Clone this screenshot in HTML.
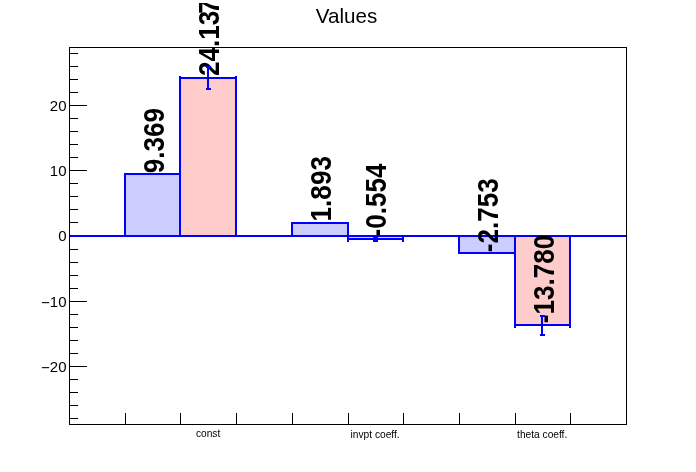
<!DOCTYPE html>
<html lang="en"><head><meta charset="utf-8"><title>Values</title>
<style>html,body{margin:0;padding:0;background:#fff;}body{width:696px;height:472px;overflow:hidden;}svg{display:block;}text{font-family:"Liberation Sans",Arial,Helvetica,sans-serif;fill:#000;}.bl{font-weight:bold;font-size:29.2px;}.yl{font-size:15.5px;text-anchor:end;}.xl{font-size:10.2px;text-anchor:middle;}.k{fill:#000;}.b{fill:#0000ff;}</style></head><body>
<svg width="696" height="472" viewBox="0 0 696 472" shape-rendering="crispEdges">
<rect x="0" y="0" width="696" height="472" fill="#ffffff"/>
<g id="frame">
<rect x="69" y="47" width="558" height="1" class="k"/>
<rect x="69" y="424" width="558" height="1" class="k"/>
<rect x="69" y="47" width="1" height="378" class="k"/>
<rect x="626" y="47" width="1" height="378" class="k"/>
</g>
<text x="346.5" y="23" style="font-size:20.6px;text-anchor:middle">Values</text>
<g id="yaxis">
<rect x="70" y="53" width="8" height="1" class="k"/>
<rect x="70" y="66" width="8" height="1" class="k"/>
<rect x="70" y="79" width="8" height="1" class="k"/>
<rect x="70" y="92" width="8" height="1" class="k"/>
<rect x="70" y="105" width="17" height="1" class="k"/>
<rect x="70" y="118" width="8" height="1" class="k"/>
<rect x="70" y="131" width="8" height="1" class="k"/>
<rect x="70" y="144" width="8" height="1" class="k"/>
<rect x="70" y="157" width="8" height="1" class="k"/>
<rect x="70" y="170" width="17" height="1" class="k"/>
<rect x="70" y="183" width="8" height="1" class="k"/>
<rect x="70" y="196" width="8" height="1" class="k"/>
<rect x="70" y="209" width="8" height="1" class="k"/>
<rect x="70" y="222" width="8" height="1" class="k"/>
<rect x="70" y="236" width="17" height="1" class="k"/>
<rect x="70" y="249" width="8" height="1" class="k"/>
<rect x="70" y="262" width="8" height="1" class="k"/>
<rect x="70" y="275" width="8" height="1" class="k"/>
<rect x="70" y="288" width="8" height="1" class="k"/>
<rect x="70" y="301" width="17" height="1" class="k"/>
<rect x="70" y="314" width="8" height="1" class="k"/>
<rect x="70" y="327" width="8" height="1" class="k"/>
<rect x="70" y="340" width="8" height="1" class="k"/>
<rect x="70" y="353" width="8" height="1" class="k"/>
<rect x="70" y="366" width="17" height="1" class="k"/>
<rect x="70" y="379" width="8" height="1" class="k"/>
<rect x="70" y="392" width="8" height="1" class="k"/>
<rect x="70" y="405" width="8" height="1" class="k"/>
<rect x="70" y="418" width="8" height="1" class="k"/>
</g>
<g id="ylabels">
<text class="yl" transform="translate(66.5 111) scale(0.97 1)">20</text>
<text class="yl" transform="translate(66.5 176.2) scale(0.97 1)">10</text>
<text class="yl" transform="translate(66.5 241.4) scale(0.97 1)">0</text>
<text class="yl" transform="translate(66.5 306.6) scale(0.97 1)"><tspan dy="1.3">−</tspan><tspan dy="-1.3">10</tspan></text>
<text class="yl" transform="translate(66.5 371.8) scale(0.97 1)"><tspan dy="1.3">−</tspan><tspan dy="-1.3">20</tspan></text>
</g>
<g id="xaxis">
<rect x="125" y="413" width="1" height="11" class="k"/>
<rect x="180" y="413" width="1" height="11" class="k"/>
<rect x="236" y="413" width="1" height="11" class="k"/>
<rect x="292" y="413" width="1" height="11" class="k"/>
<rect x="348" y="413" width="1" height="11" class="k"/>
<rect x="403" y="413" width="1" height="11" class="k"/>
<rect x="459" y="413" width="1" height="11" class="k"/>
<rect x="515" y="413" width="1" height="11" class="k"/>
<rect x="570" y="413" width="1" height="11" class="k"/>
</g>
<g id="xlabels">
<text class="xl" x="208.1" y="437.3">const</text>
<text class="xl" x="375.14" y="438.3">invpt coeff.</text>
<text class="xl" x="542.18" y="438.3">theta coeff.</text>
</g>
<g id="bars">
<rect x="125" y="174" width="55" height="62" fill="#ccccff"/>
<rect x="180" y="78" width="56" height="158" fill="#ffcccc"/>
<rect x="292" y="223" width="56" height="13" fill="#ccccff"/>
<rect x="348" y="236" width="55" height="3" fill="#ffcccc"/>
<rect x="459" y="236" width="56" height="17" fill="#ccccff"/>
<rect x="515" y="236" width="55" height="89" fill="#ffcccc"/>
<rect x="70" y="235" width="556" height="2" class="b"/>
<rect x="124" y="173" width="2" height="64" class="b"/>
<rect x="179" y="173" width="2" height="64" class="b"/>
<rect x="124" y="173" width="57" height="2" class="b"/>
<rect x="179" y="77" width="2" height="160" class="b"/>
<rect x="235" y="77" width="2" height="160" class="b"/>
<rect x="179" y="77" width="58" height="2" class="b"/>
<rect x="291" y="222" width="2" height="15" class="b"/>
<rect x="347" y="222" width="2" height="15" class="b"/>
<rect x="291" y="222" width="58" height="2" class="b"/>
<rect x="347" y="235" width="2" height="5" class="b"/>
<rect x="402" y="235" width="2" height="5" class="b"/>
<rect x="347" y="238" width="57" height="2" class="b"/>
<rect x="458" y="235" width="2" height="19" class="b"/>
<rect x="514" y="235" width="2" height="19" class="b"/>
<rect x="458" y="252" width="58" height="2" class="b"/>
<rect x="514" y="235" width="2" height="91" class="b"/>
<rect x="569" y="235" width="2" height="91" class="b"/>
<rect x="514" y="324" width="57" height="2" class="b"/>
</g>
<g id="values">
<text class="bl" transform="translate(153.92 173.3) rotate(-90) scale(0.894 1)" x="0" y="10.05">9.369</text>
<text class="bl" clip-path="url(#c)" transform="translate(208.6 76.1) rotate(-90) scale(0.894 1)" x="0" y="10.05">24.13<tspan dx="-3.4">7</tspan></text>
<text class="bl" transform="translate(320.96 221.4) rotate(-90) scale(0.894 1)" x="0" y="10.05">1.893</text>
<text class="bl" transform="translate(375.64 237.4) rotate(-90) scale(0.894 1)" x="0" y="10.05">-0.554</text>
<text class="bl" transform="translate(488 252.2) rotate(-90) scale(0.894 1)" x="0" y="10.05">-2.753</text>
<text class="bl" transform="translate(543.68 323.3) rotate(-90) scale(0.894 1)" x="0" y="10.05">-13.780</text>
</g>
<defs><clipPath id="c"><rect x="-200" y="-40" width="281.8" height="80"/></clipPath></defs>
<g id="errors">
<rect x="347" y="235" width="57" height="2" class="b"/>
<rect x="179" y="76" width="2" height="5" class="b"/>
<rect x="235" y="76" width="2" height="5" class="b"/>
<rect x="179" y="77" width="58" height="2" class="b"/>
<rect x="207" y="66" width="2" height="24" class="b"/>
<rect x="206" y="66" width="5" height="2" class="b"/>
<rect x="206" y="88" width="5" height="2" class="b"/>
<rect x="208" y="78" width="1" height="1" class="k"/>
<rect x="347" y="237" width="2" height="5" class="b"/>
<rect x="402" y="237" width="2" height="5" class="b"/>
<rect x="347" y="238" width="57" height="2" class="b"/>
<rect x="374" y="237" width="2" height="5" class="b"/>
<rect x="373" y="237" width="5" height="2" class="b"/>
<rect x="373" y="240" width="5" height="2" class="b"/>
<rect x="375" y="239" width="1" height="1" class="k"/>
<rect x="514" y="323" width="2" height="5" class="b"/>
<rect x="569" y="323" width="2" height="5" class="b"/>
<rect x="514" y="324" width="57" height="2" class="b"/>
<rect x="541" y="315" width="2" height="21" class="b"/>
<rect x="540" y="315" width="5" height="2" class="b"/>
<rect x="540" y="334" width="5" height="2" class="b"/>
<rect x="542" y="325" width="1" height="1" class="k"/>
</g>
</svg></body></html>
